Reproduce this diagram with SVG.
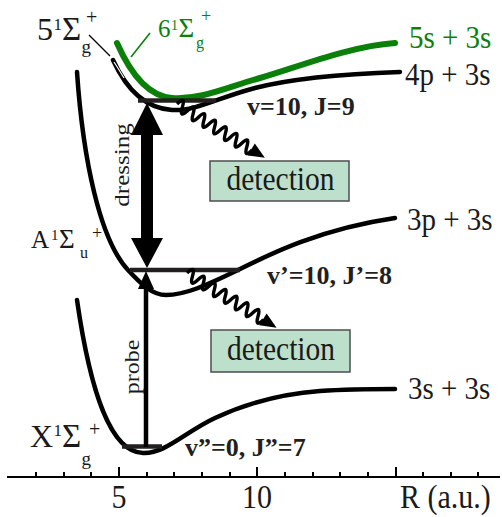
<svg xmlns="http://www.w3.org/2000/svg" width="502" height="517" viewBox="0 0 502 517">
<style>
.t{font-family:"Liberation Serif","Times New Roman",serif;fill:#1a1a1a}
.b{font-family:"Liberation Serif","Times New Roman",serif;font-weight:bold;font-size:26px;fill:#231f20}
.g{fill:#0a800a}
.curve{fill:none;stroke:#000;stroke-width:4.5;stroke-linecap:round}
.lvl{stroke:#231f20;stroke-width:4.5}
.tick{stroke:#000;stroke-width:2}
.wave{fill:none;stroke:#000;stroke-width:3.4;stroke-linejoin:round}
.box{fill:#bde0cc;stroke:#4d4d4d;stroke-width:1.5}
</style>
<rect width="502" height="517" fill="#fff"/>
<g id="axis">
<line x1="7" y1="477" x2="500" y2="477" class="tick"/>
<path class="tick" d="M119,477V467M257,477V467M396,477V467M36,477V472M64,477V472M91,477V472M147,477V472M174,477V472M202,477V472M230,477V472M285,477V472M313,477V472M340,477V472M368,477V472M423,477V472M451,477V472M478,477V472"/>
<text class="t" x="119" y="508" font-size="30" text-anchor="middle" transform="matrix(1,0,0,1.1,0,-50.8)">5</text>
<text class="t" x="257" y="508" font-size="30" text-anchor="middle" transform="matrix(1,0,0,1.1,0,-50.8)">10</text>
<text class="t" x="400" y="508" font-size="30" transform="matrix(1,0,0,1.12,0,-60.96)">R (a.u.)</text>
</g>
<g id="state-X">
<path class="curve" d="M77,300 C90,390 110,452 143,453 C165,454 185,432 215,418 C245,404 280,394 320,391 C350,389 375,389 395,389"/>
<text class="t" x="408" y="399" font-size="29" transform="matrix(1,0,0,1.12,0,-47.88)">3s + 3s</text>
<text class="t" font-size="32"><tspan x="30" y="447">X</tspan><tspan x="53.5" y="436" font-size="17">1</tspan><tspan x="62" y="447" font-size="33">Σ</tspan><tspan x="81.5" y="465" font-size="19">g</tspan><tspan x="89" y="436" font-size="20">+</tspan></text>
</g>
<g id="state-A">
<path class="curve" d="M77,72 C83,160 100,240 128,270 C141,284 152,295 166,295 C185,295 205,286 238,270 C270,254 320,229 395,218"/>
<text class="t" x="407" y="230" font-size="29" transform="matrix(1,0,0,1.12,0,-27.6)">3p + 3s</text>
<text class="t" font-size="25"><tspan x="31" y="248">A</tspan><tspan x="51" y="240" font-size="15">1</tspan><tspan x="59" y="248" font-size="27">Σ</tspan><tspan x="80" y="258" font-size="16">u</tspan><tspan x="92" y="239" font-size="18">+</tspan></text>
</g>
<g id="state-5">
<path class="curve" d="M113,60 C123,82 140,108 172,110 C195,111.5 220,97 255,88 C290,79 340,74 400,72"/>
<path d="M114,62 C118,68 121,73 124,78" fill="none" stroke="#fff" stroke-width="1.2"/>
<text class="t" x="405" y="85" font-size="29" transform="matrix(1,0,0,1.12,0,-10.2)">4p + 3s</text>
<text class="t" font-size="32"><tspan x="37" y="40">5</tspan><tspan x="53.5" y="30" font-size="17">1</tspan><tspan x="62" y="40" font-size="33">Σ</tspan><tspan x="81.5" y="53" font-size="19">g</tspan><tspan x="86" y="24" font-size="20">+</tspan></text>
</g>
<g id="state-6">
<path d="M117,43 C128,68 145,96 172,98 C200,100 225,88 260,78 C295,68 350,46 395,43" fill="none" stroke="#0a800a" stroke-width="6" stroke-linecap="round"/>
<text class="t g" x="409" y="48" font-size="29" transform="matrix(1,0,0,1.12,0,-5.76)">5s + 3s</text>
<text class="t g" font-size="25"><tspan x="158" y="37">6</tspan><tspan x="171" y="30" font-size="14">1</tspan><tspan x="178.5" y="37" font-size="27">Σ</tspan><tspan x="196" y="48" font-size="16">g</tspan><tspan x="201" y="22" font-size="18">+</tspan></text>
</g>
<g id="levels">
<line class="lvl" x1="138" y1="100.5" x2="216" y2="100.5"/>
<line class="lvl" x1="130" y1="270" x2="240" y2="270"/>
<line class="lvl" x1="122" y1="446.5" x2="162" y2="446.5"/>
<text class="b" x="247" y="115">v=10, J=9</text>
<text class="b" x="267" y="284">v’=10, J’=8</text>
<text class="b" x="185" y="456">v”=0, J”=7</text>
</g>
<g id="box-detection-1">
<rect class="box" x="210" y="161" width="139" height="40"/>
<text class="t" x="280.5" y="190" font-size="29.5" text-anchor="middle" transform="matrix(1,0,0,1.12,0,-22.8)">detection</text>
</g>
<g id="box-detection-2">
<rect class="box" x="211" y="330" width="139" height="42"/>
<text class="t" x="281" y="360" font-size="29.5" text-anchor="middle" transform="matrix(1,0,0,1.12,0,-43.2)">detection</text>
</g>
<g id="connectors">
<line x1="89" y1="35" x2="110" y2="56" stroke="#000" stroke-width="1.3"/>
<line x1="150" y1="33" x2="131" y2="57" stroke="#0a800a" stroke-width="1.6"/>
<polygon points="147,103 163,135 153,135 153,238 163,238 147,268 131,238 141,238 141,135 131,135" fill="#000"/>
<text class="t" font-size="21" text-anchor="middle" transform="translate(129,165) scale(1,1.19) rotate(-90)">dressing</text>
<line x1="146" y1="447" x2="146" y2="286" stroke="#000" stroke-width="4.5"/>
<polygon points="146,271 154,289 138,289" fill="#000"/>
<text class="t" font-size="20" text-anchor="middle" transform="translate(139,367) scale(1,1.2) rotate(-90)">probe</text>
<g transform="translate(177,104) rotate(31.5)">
<path class="wave" d="M0,0 q3.15,-12 6.3,0 t6.3,0 t6.3,0 t6.3,0 t6.3,0 t6.3,0 t6.3,0 t6.3,0 t6.3,0 t6.3,0 t6.3,0 t6.3,0 t6.3,0 t6.3,0"/>
<polygon points="87,-7 103,0 87,7" fill="#000"/>
</g>
<g transform="translate(187,273) rotate(31.4)">
<path class="wave" d="M0,0 q3.2,-12 6.4,0 t6.4,0 t6.4,0 t6.4,0 t6.4,0 t6.4,0 t6.4,0 t6.4,0 t6.4,0 t6.4,0 t6.4,0 t6.4,0 t6.4,0 t6.4,0"/>
<polygon points="89,-7 105,0 89,7" fill="#000"/>
</g>
</g>
</svg>
